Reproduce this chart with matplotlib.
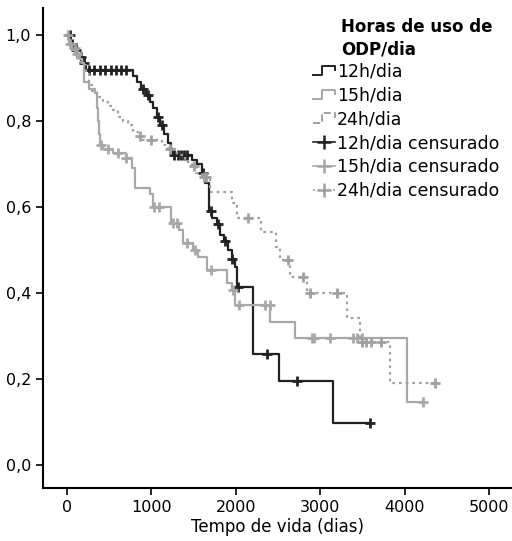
import numpy as np
import matplotlib
matplotlib.use("Agg")
import matplotlib.pyplot as plt
from matplotlib.lines import Line2D
from matplotlib.legend_handler import HandlerBase

# curvas de Kaplan-Meier (tempo do evento, sobrevida apos o evento)
t_12h = [0, 40, 80, 120, 170, 220, 780, 830, 880, 930, 980, 1020, 1060, 1100, 1150, 1200,
         1230, 1260, 1480, 1540, 1600, 1635, 1680, 1720, 1777, 1813, 1860, 1907, 1950, 1990,
         2014, 2204, 2512, 3152]
s_12h = [1.0, 0.98, 0.965, 0.95, 0.935, 0.918, 0.905, 0.89, 0.875, 0.86, 0.845, 0.83, 0.81,
         0.79, 0.77, 0.75, 0.735, 0.72, 0.71, 0.70, 0.68, 0.655, 0.59, 0.575, 0.56, 0.535,
         0.52, 0.50, 0.48, 0.46, 0.414, 0.258, 0.195, 0.098]
c_12h = [30, 60, 110, 160, 200, 260, 320, 390, 450, 520, 580, 640, 700, 900, 960, 1080, 1130,
         1270, 1310, 1350, 1390, 1420, 1610, 1700, 1790, 1870, 1960, 2030, 2370, 2725, 3590]

t_15h = [0, 25, 60, 100, 150, 180, 200, 260, 330, 360, 370, 380, 390, 420, 550, 700, 770,
         800, 980, 1020, 1230, 1330, 1370, 1490, 1550, 1660, 1890, 1950, 1990, 2405, 2700, 4030]
s_15h = [1.0, 0.98, 0.965, 0.955, 0.945, 0.935, 0.89, 0.875, 0.865, 0.83, 0.80, 0.77, 0.745,
         0.735, 0.725, 0.715, 0.69, 0.645, 0.63, 0.60, 0.563, 0.547, 0.516, 0.50, 0.484, 0.453,
         0.423, 0.407, 0.372, 0.333, 0.295, 0.147]
c_15h = [35, 120, 400, 480, 600, 700, 1030, 1090, 1250, 1300, 1420, 1520, 1700, 1970, 2040,
         2345, 2400, 2900, 2930, 3115, 3390, 3440, 3500, 4220]

t_24h = [0, 30, 70, 120, 170, 220, 260, 300, 360, 420, 480, 540, 600, 660, 720, 780, 840, 880,
         1130, 1200, 1300, 1400, 1480, 1530, 1600, 1690, 1960, 2014, 2300, 2480, 2524, 2640,
         2840, 3318, 3472, 3827]
s_24h = [1.0, 0.985, 0.97, 0.95, 0.93, 0.91, 0.885, 0.87, 0.855, 0.845, 0.835, 0.825, 0.81,
         0.80, 0.79, 0.775, 0.765, 0.757, 0.745, 0.735, 0.72, 0.705, 0.695, 0.68, 0.67, 0.635,
         0.61, 0.574, 0.542, 0.507, 0.477, 0.437, 0.40, 0.342, 0.285, 0.191]
c_24h = [15, 90, 870, 1000, 1220, 1500, 1620, 1650, 2144, 2618, 2796, 2879, 3199, 3490, 3540,
         3600, 3720, 4360]

grupos = ["12h/dia", "15h/dia", "24h/dia"]
cores = ["#222222", "#a8a8a8", "#a0a0a0"]
estilos = ["-", "-", (0, (1.2, 1.8))]
dados = [(t_12h, s_12h, c_12h), (t_15h, s_15h, c_15h), (t_24h, s_24h, c_24h)]


class HandlerStep(HandlerBase):
    def create_artists(self, legend, orig_handle, xdescent, ydescent, width, height, fontsize, trans):
        x0 = -xdescent
        y0 = -ydescent + height * 0.15
        xs = [x0, x0 + width * 0.4, x0 + width * 0.4, x0 + width, x0 + width]
        ys = [y0, y0, y0 + height * 0.75, y0 + height * 0.75, y0 + height * 0.4]
        ln = Line2D(xs, ys, color=orig_handle.get_color(), linestyle=orig_handle.get_linestyle(),
                    linewidth=orig_handle.get_linewidth())
        ln.set_transform(trans)
        return [ln]


fig = plt.figure(figsize=(5.12, 5.41), dpi=100)
ax = fig.add_axes([43 / 512, 1 - 488 / 541, 469 / 512, 480 / 541])

for (t, s, c), cor, ls in zip(dados, cores, estilos):
    t = np.array(t, dtype=float)
    s = np.array(s, dtype=float)
    tt = np.append(t, max(c))
    ss = np.append(s, s[-1])
    ax.step(tt, ss, where="post", color=cor, linestyle=ls, linewidth=1.6)
    idx = np.searchsorted(t, c, side="right") - 1
    ax.plot(c, s[idx], linestyle="none", marker="+", color=cor, markersize=7, markeredgewidth=2)

ax.set_xlim(-285, 5272)
ax.set_ylim(-0.0535, 1.063)
ax.set_xticks([0, 1000, 2000, 3000, 4000, 5000])
ax.set_yticks([0.0, 0.2, 0.4, 0.6, 0.8, 1.0])
ax.set_yticklabels(["0,0", "0,2", "0,4", "0,6", "0,8", "1,0"])
ax.tick_params(labelsize=11.5, length=5, width=1.2, colors="black")
for lado in ["top", "right"]:
    ax.spines[lado].set_visible(False)
for lado in ["left", "bottom"]:
    ax.spines[lado].set_linewidth(1.5)
ax.set_xlabel("Tempo de vida (dias)", fontsize=12, labelpad=2)

handles = []
for g, cor, ls in zip(grupos, cores, estilos):
    handles.append(Line2D([], [], color=cor, linestyle=ls, linewidth=1.4))
for g, cor, ls in zip(grupos, cores, estilos):
    handles.append(Line2D([], [], color=cor, linestyle=ls, linewidth=1.2, marker="+",
                          markersize=10, markeredgewidth=1.8))
labels = grupos + [g + " censurado" for g in grupos]
hmap = {h: HandlerStep() for h in handles[:3]}
leg = ax.legend(handles, labels, loc="upper left", bbox_to_anchor=(0.56, 0.9), frameon=False,
                fontsize=12.5, handlelength=1.3, handletextpad=0.1, labelspacing=0.33,
                borderaxespad=0, numpoints=1, handler_map=hmap)
ax.text(0.635, 0.98, "Horas de uso de\nODP/dia", transform=ax.transAxes, fontsize=12,
        fontweight="bold", va="top", ha="left", linespacing=1.35)

fig.savefig("out.png", dpi=100)
